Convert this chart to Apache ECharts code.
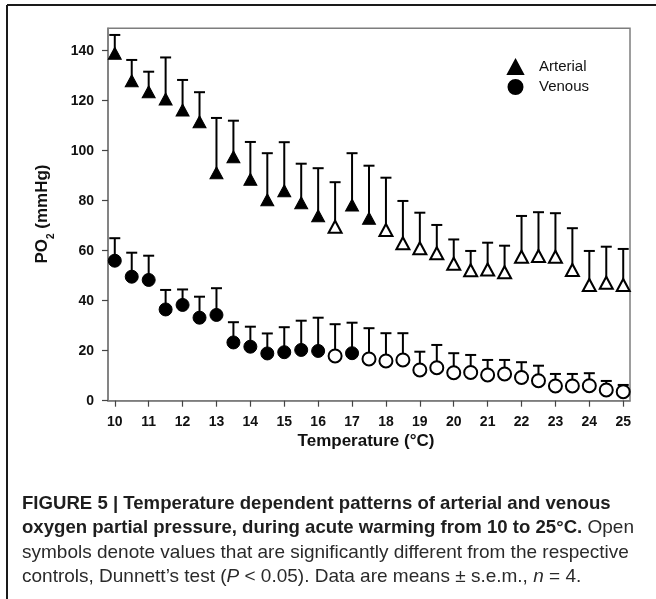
<!DOCTYPE html>
<html>
<head>
<meta charset="utf-8">
<script src="https://cdn.jsdelivr.net/npm/echarts@6/dist/echarts.min.js"></script>
<style>
  html, body { margin: 0; padding: 0; background: #fff; }
  #chart { width: 656px; height: 599px; }
</style>
</head>
<body>
<div id="chart"></div>
<script>
// Temperature steps during acute warming (°C)
const temperatures = [10, 10.5, 11, 11.5, 12, 12.5, 13, 13.5, 14, 14.5,
  15, 15.5, 16, 16.5, 17, 17.5, 18, 18.5, 19, 19.5,
  20, 20.5, 21, 21.5, 22, 22.5, 23, 23.5, 24, 24.5, 25];

// Arterial PO2 (mmHg): means and s.e.m.
const arterialMean = [139, 128, 123.6, 120.7, 116.3, 111.6, 91.2, 97.6, 88.6, 80.4,
  84, 79.2, 74, 69.6, 78.3, 73, 68.3, 63, 61, 59,
  54.8, 52.2, 52.5, 51.4, 57.6, 57.9, 57.6, 52.3, 46.3, 47.2, 46.3];
const arterialSem = [7.3, 8.3, 8, 16.6, 12, 11.8, 21.9, 14.4, 14.9, 18.6,
  19.4, 15.6, 19, 17.8, 20.7, 21, 20.9, 16.9, 14.2, 11.3,
  9.7, 7.7, 10.7, 10.6, 16.3, 17.5, 17.4, 16.7, 13.6, 14.4, 14.4];
// 1 = significantly different from control (open symbol)
const arterialSig = [0, 0, 0, 0, 0, 0, 0, 0, 0, 0,
  0, 0, 0, 1, 0, 0, 1, 1, 1, 1,
  1, 1, 1, 1, 1, 1, 1, 1, 1, 1, 1];

// Venous PO2 (mmHg): means and s.e.m.
const venousMean = [56, 49.6, 48.3, 36.5, 38.3, 33.2, 34.3, 23.3, 21.6, 18.9,
  19.4, 20.3, 19.9, 17.9, 19, 16.7, 15.9, 16.3, 12.3, 13.2,
  11.2, 11.3, 10.3, 10.7, 9.3, 8, 5.9, 5.9, 6, 4.3, 3.6];
const venousSem = [9, 9.6, 9.7, 7.8, 6.2, 8.4, 10.7, 8.1, 8, 8,
  10, 11.7, 13.3, 12.7, 12.2, 12.3, 11.1, 10.7, 7.3, 9.1,
  7.8, 7, 6, 5.6, 6.1, 6, 4.8, 4.8, 5, 3.6, 2.7];
const venousSig = [0, 0, 0, 0, 0, 0, 0, 0, 0, 0,
  0, 0, 0, 1, 0, 1, 1, 1, 1, 1,
  1, 1, 1, 1, 1, 1, 1, 1, 1, 1, 1];

// Axis ticks
const xTicks = [10, 11, 12, 13, 14, 15, 16, 17, 18, 19, 20, 21, 22, 23, 24, 25];
const yTicks = [0, 20, 40, 60, 80, 100, 120, 140];

const AXIS_GRAY = '#7d7d7d';
const LABEL_FONT = 'Liberation Sans, Arial, sans-serif';
const CAPTION_FONT = '"Liberation Sans Narrow", "Liberation Sans", Arial, sans-serif';

function pointData(means, sig) {
  return temperatures.map((t, i) => {
    const item = { value: [t, means[i]] };
    if (sig[i]) {
      item.itemStyle = { color: '#fff', borderColor: '#000', borderWidth: 2 };
    }
    return item;
  });
}

function errorData(means, sems) {
  return temperatures.map((t, i) => [t, means[i], means[i] + sems[i]]);
}

// Upper error bar: stem from the mean up to mean + s.e.m., with a cap
function renderUpperBar(params, api) {
  const x = api.value(0);
  const p0 = api.coord([x, api.value(1)]);
  const p1 = api.coord([x, api.value(2)]);
  const half = 5.5;
  const style = { stroke: '#000', lineWidth: 2 };
  return {
    type: 'group',
    children: [
      { type: 'line', shape: { x1: p0[0], y1: p0[1], x2: p1[0], y2: p1[1] }, style },
      { type: 'line', shape: { x1: p1[0] - half, y1: p1[1], x2: p1[0] + half, y2: p1[1] }, style }
    ]
  };
}

const chart = echarts.init(document.getElementById('chart'), null, { renderer: 'canvas' });

const captionRich = {
  b: { fontFamily: CAPTION_FONT, fontWeight: 'bold', fontSize: 18.6, fill: '#1e1e1e' },
  n: { fontFamily: CAPTION_FONT, fontWeight: 'normal', fontSize: 19, fill: '#2a2a2a' },
  i: { fontFamily: CAPTION_FONT, fontWeight: 'normal', fontStyle: 'italic', fontSize: 19, fill: '#2a2a2a' }
};

function captionLine(y, text) {
  return {
    type: 'text', left: 22, top: y,
    style: { text, rich: captionRich, fontFamily: CAPTION_FONT, fontSize: 19, fill: '#222' }
  };
}

chart.setOption({
  backgroundColor: '#fff',
  animation: false,
  grid: {
    left: 108, right: 26, top: 28.2, bottom: 198.3,
    show: true, borderColor: AXIS_GRAY, borderWidth: 1.5, backgroundColor: 'transparent'
  },
  xAxis: {
    type: 'value', min: 9.8, max: 25.2,
    axisLine: { show: true, lineStyle: { color: AXIS_GRAY, width: 1.5 } },
    axisTick: { show: true, length: 6, customValues: xTicks, lineStyle: { color: '#444', width: 1.2 } },
    axisLabel: {
      customValues: xTicks, margin: 14,
      fontFamily: LABEL_FONT, fontWeight: 'bold', fontSize: 14, color: '#111'
    },
    splitLine: { show: false }
  },
  yAxis: {
    type: 'value', min: 0, max: 149,
    axisLine: { show: true, lineStyle: { color: AXIS_GRAY, width: 1.5 } },
    axisTick: { show: true, length: 6, customValues: yTicks, lineStyle: { color: '#444', width: 1.2 } },
    axisLabel: {
      customValues: yTicks, margin: 14,
      fontFamily: LABEL_FONT, fontWeight: 'bold', fontSize: 14, color: '#111'
    },
    splitLine: { show: false }
  },
  legend: {
    orient: 'vertical', left: 502, top: 54,
    itemWidth: 15, itemHeight: 14, itemGap: 4,
    data: ['Arterial', 'Venous'],
    textStyle: { fontFamily: LABEL_FONT, fontSize: 15, color: '#111', padding: [0, 0, 0, 11] }
  },
  series: [
    {
      name: 'Arterial s.e.m.', type: 'custom', renderItem: renderUpperBar,
      data: errorData(arterialMean, arterialSem), encode: { x: 0, y: [1, 2] }, z: 2, silent: true
    },
    {
      name: 'Venous s.e.m.', type: 'custom', renderItem: renderUpperBar,
      data: errorData(venousMean, venousSem), encode: { x: 0, y: [1, 2] }, z: 2, silent: true
    },
    {
      name: 'Arterial', type: 'scatter', symbol: 'triangle', symbolSize: [13, 12],
      itemStyle: { color: '#000', borderColor: '#000', borderWidth: 1, opacity: 1 },
      data: pointData(arterialMean, arterialSig), z: 5
    },
    {
      name: 'Venous', type: 'scatter', symbol: 'circle', symbolSize: 13,
      itemStyle: { color: '#000', borderColor: '#000', borderWidth: 1, opacity: 1 },
      data: pointData(venousMean, venousSig), z: 5
    }
  ],
  graphic: [
    // figure frame
    { type: 'line', shape: { x1: 7, y1: 5, x2: 656, y2: 5 }, style: { stroke: '#1a1a1a', lineWidth: 2 } },
    { type: 'line', shape: { x1: 7, y1: 5, x2: 7, y2: 599 }, style: { stroke: '#1a1a1a', lineWidth: 2 } },
    // axis titles
    {
      type: 'text', x: 42, y: 214, rotation: Math.PI / 2,
      style: {
        text: '{m|PO}{s|2}{m| (mmHg)}', align: 'center', verticalAlign: 'middle',
        rich: {
          m: { fontFamily: LABEL_FONT, fontWeight: 'bold', fontSize: 17, fill: '#111', lineHeight: 20 },
          s: { fontFamily: LABEL_FONT, fontWeight: 'bold', fontSize: 10, fill: '#111', lineHeight: 20, verticalAlign: 'bottom', padding: [0, 0, -4, 0] }
        }
      }
    },
    {
      type: 'text', x: 366, y: 441,
      style: {
        text: 'Temperature (°C)', align: 'center', verticalAlign: 'middle',
        fontFamily: LABEL_FONT, fontWeight: 'bold', fontSize: 17, fill: '#111'
      }
    },
    // caption
    captionLine(494, '{b|FIGURE 5 | Temperature dependent patterns of arterial and venous}'),
    captionLine(518, '{b|oxygen partial pressure, during acute warming from 10 to 25°C.}{n| Open}'),
    captionLine(543, '{n|symbols denote values that are significantly different from the respective}'),
    captionLine(567, '{n|controls, Dunnett’s test (}{i|P}{n| < 0.05). Data are means ± s.e.m., }{i|n}{n| = 4.}')
  ]
});
</script>
</body>
</html>
